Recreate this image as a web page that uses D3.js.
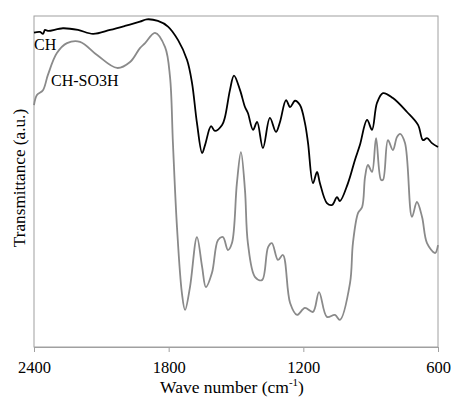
<!DOCTYPE html>
<html>
<head>
<meta charset="utf-8">
<script src="https://cdn.jsdelivr.net/npm/d3@7"></script>
<style>
    body { margin: 0; background: #fff; }
    svg text { font-family: "Liberation Serif", "Times New Roman", serif; fill: #000; }
</style>
</head>
<body>
<div id="chart"></div>
<script>
// wavenumber (cm-1) and transmittance (a.u., 0-100)
const chWave = [2400, 2373, 2360, 2351, 2338, 2271, 2204, 2137, 2061, 1995, 1928, 1897, 1848, 1803,
    1758, 1718, 1696, 1674, 1651, 1638, 1611, 1594, 1562, 1549, 1527, 1509, 1482, 1460, 1447, 1424,
    1406, 1380, 1349, 1322, 1304, 1277, 1259, 1237, 1215, 1193, 1179, 1157, 1139, 1126, 1095, 1072,
    1050, 1037, 1001, 970, 948, 916, 894, 872, 845, 801, 738, 689, 667, 649, 627, 600];
const chValue = [95.0, 95.2, 94.6, 95.8, 95.5, 96.3, 95.8, 94.6, 95.8, 97.0, 98.3, 99.0, 98.5, 96.8,
    92.7, 86.7, 79.8, 67.7, 58.6, 61.0, 66.7, 65.3, 67.1, 69.5, 77.6, 82.0, 77.6, 72.5, 70.7, 65.6,
    68.0, 60.1, 69.2, 65.0, 68.0, 74.6, 72.5, 74.4, 73.1, 67.7, 61.6, 49.5, 52.9, 49.5, 43.5, 42.9,
    45.3, 44.1, 49.5, 56.5, 61.0, 68.6, 65.6, 73.7, 76.7, 75.2, 71.0, 67.1, 62.5, 63.1, 61.6, 60.4];

const so3hWave = [2400, 2387, 2360, 2338, 2298, 2253, 2195, 2119, 2030, 1972, 1928, 1905, 1861, 1816,
    1794, 1781, 1763, 1741, 1727, 1705, 1674, 1651, 1634, 1607, 1580, 1558, 1536, 1518, 1496, 1478,
    1460, 1447, 1415, 1384, 1357, 1340, 1313, 1291, 1259, 1228, 1193, 1157, 1130, 1095, 1059, 1037,
    992, 979, 956, 938, 925, 912, 894, 876, 854, 845, 823, 801, 783, 769, 747, 716, 694, 671, 649,
    613, 600];
const so3hValue = [73.1, 76.1, 77.6, 82.2, 88.8, 91.8, 92.2, 88.2, 84.3, 86.1, 90.3, 91.8, 94.9, 90.6,
    81.6, 61.6, 36.3, 16.3, 11.2, 18.1, 33.2, 24.2, 18.1, 22.4, 32.3, 33.2, 29.3, 31.4, 49.5, 58.9,
    47.4, 31.4, 21.1, 20.2, 30.2, 31.4, 26.3, 27.8, 13.3, 9.7, 11.8, 10.6, 16.6, 9.1, 9.7, 8.2,
    19.3, 31.4, 40.5, 42.3, 51.4, 55.0, 52.9, 63.1, 50.5, 50.5, 62.5, 59.5, 63.4, 64.4, 61.6, 39.3,
    43.8, 39.3, 31.4, 28.4, 30.8];

const xTicks = [2400, 1800, 1200, 600];

const width = 452;
const height = 399;
const margin = { top: 16, right: 14, bottom: 52, left: 34 };
const innerW = width - margin.left - margin.right;
const innerH = height - margin.top - margin.bottom;

const svg = d3.select('#chart')
    .append('svg')
    .attr('width', width)
    .attr('height', height);

const g = svg.append('g')
    .attr('transform', `translate(${margin.left},${margin.top})`);

const x = d3.scaleLinear()
    .domain([2400, 600])
    .range([0, innerW]);

const y = d3.scaleLinear()
    .domain([0, 100])
    .range([innerH, 0]);

// plot frame
g.append('rect')
    .attr('x', 0)
    .attr('y', 0)
    .attr('width', innerW)
    .attr('height', innerH)
    .attr('fill', 'none')
    .attr('stroke', '#a0a0a0')
    .attr('stroke-width', 1);

g.append('g')
    .attr('transform', `translate(0,${innerH})`)
    .call(d3.axisBottom(x).tickValues(xTicks).tickSize(5).tickPadding(9).tickFormat(d3.format('d')))
    .call(a => a.select('.domain').attr('stroke', '#a0a0a0'))
    .call(a => a.selectAll('.tick line').attr('stroke', '#a0a0a0'))
    .call(a => a.selectAll('.tick text')
        .attr('font-family', '"Liberation Serif", serif')
        .attr('font-size', 16.5)
        .attr('fill', '#000'));

const line = d3.line()
    .x(d => x(d[0]))
    .y(d => y(d[1]))
    .curve(d3.curveCatmullRom.alpha(0.5));

const series = [
    { name: 'CH-SO3H', wave: so3hWave, value: so3hValue, color: '#8a8a8a' },
    { name: 'CH', wave: chWave, value: chValue, color: '#000' },
];

series.forEach(s => {
    g.append('path')
        .datum(d3.zip(s.wave, s.value))
        .attr('fill', 'none')
        .attr('stroke', s.color)
        .attr('stroke-width', 1.8)
        .attr('stroke-linejoin', 'round')
        .attr('d', line);
});

// curve labels
svg.append('text')
    .attr('x', 34)
    .attr('y', 50)
    .attr('font-size', 16)
    .text('CH');

svg.append('text')
    .attr('x', 51)
    .attr('y', 86)
    .attr('font-size', 16)
    .text('CH-SO3H');

// axis titles
const xTitle = svg.append('text')
    .attr('x', 232)
    .attr('y', 393)
    .attr('text-anchor', 'middle')
    .attr('font-size', 17.5);
xTitle.append('tspan').text('Wave number (cm');
xTitle.append('tspan').attr('font-size', 11).attr('dy', -7).text('-1');
xTitle.append('tspan').attr('dy', 7).text(')');

svg.append('text')
    .attr('transform', 'translate(25,178) rotate(-90)')
    .attr('text-anchor', 'middle')
    .attr('font-size', 17.2)
    .text('Transmittance (a.u.)');
</script>
</body>
</html>
